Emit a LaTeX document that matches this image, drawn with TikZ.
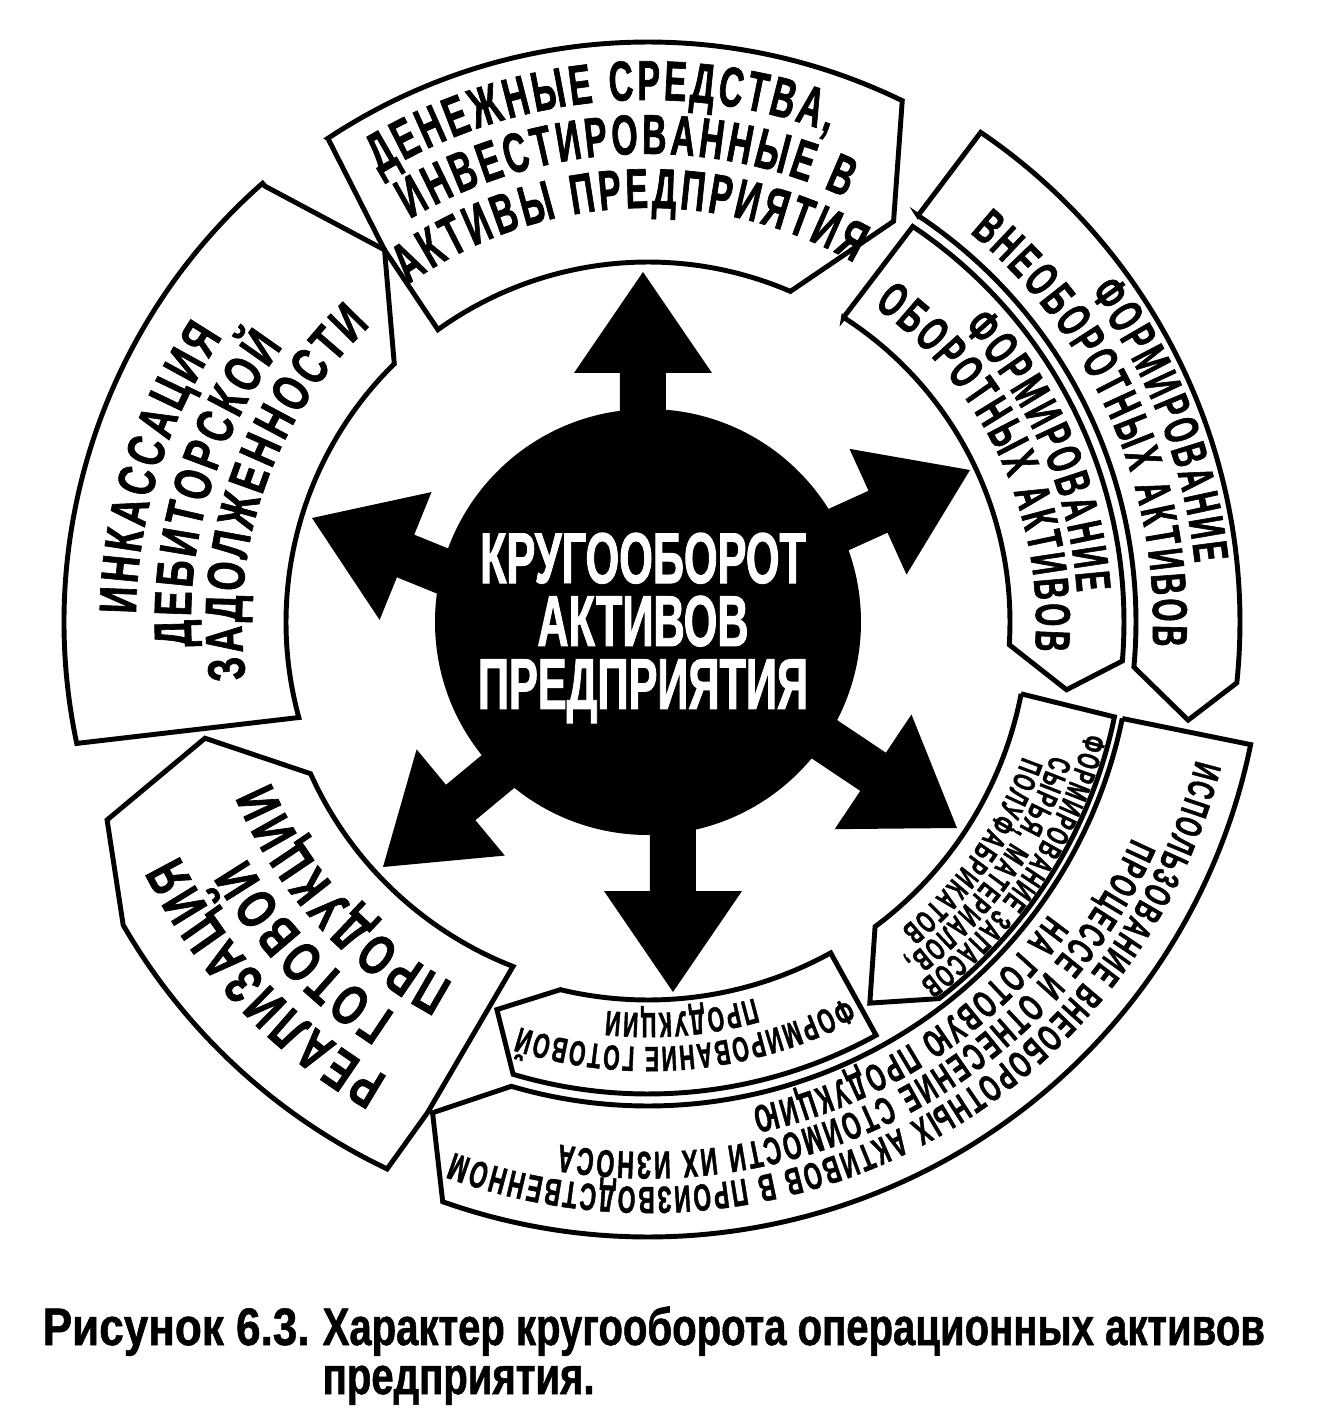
\documentclass[tikz,border=0pt]{standalone}
\usepackage{fontspec}
\newfontfamily\cnd[FakeStretch=0.6, FakeBold=1.2]{Liberation Sans}
\newfontfamily\cndw[FakeStretch=0.71, FakeBold=1.2]{Liberation Sans}
\newfontfamily\capf[FakeStretch=0.76, FakeBold=1]{Liberation Sans}
\usetikzlibrary{decorations.text}
\newcommand\arctext[5][\cnd]{\path[decorate, decoration={text along path, text={|#1\bfseries\fontsize{#4}{#4}\selectfont\kern.06em|#5}, text align=center}] ({#3+75}:#2) arc[start angle={#3+75}, end angle={#3-75}, radius=#2];}

\begin{document}
\begin{tikzpicture}[box/.style={draw, line width=1.4pt}]
\useasboundingbox (-6.48,6.22) rectangle (6.72,-7.92);
\draw[box] (123.5:5.8) -- (125.3:4.56) -- (125.7:3.6) arc[start angle=125.7, end angle=66.7, radius=3.6] -- (58.5:4.7) -- (64:5.8) arc[start angle=64, end angle=123.5, radius=5.8] -- cycle;
\draw[box] (131.3:5.8) -- (125.3:4.56) -- (134.5:3.62) arc[start angle=134.5, end angle=195.3, radius=3.62] -- (192:5.84) arc[start angle=192, end angle=131.3, radius=5.84] -- cycle;
\draw[box] (200.1:5.76) -- (194.7:4.58) -- (204.2:3.7) arc[start angle=204.2, end angle=248.6, radius=3.7] -- (245.8:5.38) -- (244.5:6.06) arc[start angle=244.5, end angle=210, radius=6.06] -- cycle;
\draw[box] (248.7:4.16) -- (256.6:3.78) arc[start angle=256.6, end angle=298.9, radius=3.78] -- (298.9:4.72) arc[start angle=298.9, end angle=253.4, radius=4.72] -- cycle;
\draw[box] (-10.9:3.8) -- (-11.5:4.76) arc[start angle=-11.5, end angle=-52.3, radius=4.76] -- (-59.8:4.41) -- (-53.3:3.8) arc[start angle=-53.3, end angle=-10.9, radius=3.8] -- cycle;
\draw[box] (-11.5:4.84) -- (-11.5:6.15) arc[start angle=-11.5, end angle=-109.5, radius=6.15] -- (-113.7:5.36) -- (-106.4:4.84) arc[start angle=-106.4, end angle=-11.5, radius=4.84] -- cycle;
\draw[box] (57.3:3.62) -- (56.2:4.76) arc[start angle=56.2, end angle=-4.7, radius=4.76] -- (-9.2:4.24) -- (-3.6:3.62) arc[start angle=-3.6, end angle=57.3, radius=3.62] -- cycle;
\draw[box] (56.4:4.88) -- (55.8:5.92) arc[start angle=55.8, end angle=-5.9, radius=5.92] -- (-10.3:5.49) -- (-5.3:4.88) arc[start angle=-5.3, end angle=56.4, radius=4.88] -- cycle;
\fill (0,0) circle (2.13);
\foreach \x/\y/\d in {-0.05/3.5/90, 3.22/1.52/24.4, 3.09/-2.06/-33.8, 0.25/-3.7/-90, -2.65/-2.45/219.7, -3.36/1.04/157.9}
  \fill[shift={(\x,\y)}, rotate=\d] (0,0) -- (-1.01,0.69) -- (-1.01,0.23) -- (-3,0.23) -- (-3,-0.23) -- (-1.01,-0.23) -- (-1.01,-0.69) -- cycle;
\node[align=center, text=white, font=\cnd\bfseries\fontsize{20.5}{17.9}\selectfont] (core) at (-0.05,-0.06) {КРУГООБОРОТ\\АКТИВОВ\\ПРЕДПРИЯТИЯ};
\arctext{5.22}{95.5}{16}{ДЕНЕЖНЫЕ СРЕДСТВА,}
\arctext{4.68}{93}{16}{ИНВЕСТИРОВАННЫЕ В}
\arctext{4.14}{93}{16}{АКТИВЫ ПРЕДПРИЯТИЯ}
\arctext[\cndw]{5.12}{162.8}{15}{ИНКАССАЦИЯ}
\arctext[\cndw]{4.57}{163.2}{15}{ДЕБИТОРСКОЙ}
\arctext[\cndw]{4.06}{160.8}{15}{ЗАДОЛЖЕННОСТИ}
\arctext{5.5}{21.6}{14}{ФОРМИРОВАНИЕ}
\arctext{5.05}{24}{14}{ВНЕОБОРОТНЫХ АКТИВОВ}
\arctext{4.3}{23.7}{14}{ФОРМИРОВАНИЕ}
\arctext{3.88}{25.3}{14}{ОБОРОТНЫХ АКТИВОВ}
\arctext{4.51}{-33.5}{9}{ФОРМИРОВАНИЕ ЗАПАСОВ}
\arctext{4.245}{-35.4}{9}{СЫРЬЯ, МАТЕРИАЛОВ,}
\arctext{3.98}{-35}{9}{ПОЛУФАБРИКАТОВ}
\arctext{5.65}{-62}{10.8}{ИСПОЛЬЗОВАНИЕ ВНЕОБОРОТНЫХ АКТИВОВ В ПРОИЗВОДСТВЕННОМ}
\arctext{5.3}{-61.7}{11}{ПРОЦЕССЕ И ОТНЕСЕНИЕ СТОИМОСТИ ИХ ИЗНОСА}
\arctext{4.96}{-56.9}{11}{НА ГОТОВУЮ ПРОДУКЦИЮ}
\arctext{4.25}{275.3}{10}{ФОРМИРОВАНИЕ ГОТОВОЙ}
\arctext{3.91}{275}{10}{ПРОДУКЦИИ}
\arctext[\cndw]{5.24}{223.5}{16}{РЕАЛИЗАЦИЯ}
\arctext[\cndw]{4.66}{224}{16}{ГОТОВОЙ}
\arctext[\cndw]{4.1}{222.5}{16}{ПРОДУКЦИИ}
\node[anchor=base west, inner sep=0, xscale=1.1, font=\capf\bfseries\fontsize{15}{15}\selectfont] (cap1) at (-6.06,-7.23) {Рисунок 6.3.};
\node[anchor=base west, inner sep=0, font=\capf\bfseries\fontsize{15}{15}\selectfont] (cap2) at (-3.26,-7.23) {Характер кругооборота операционных активов};
\node[anchor=base west, inner sep=0, font=\capf\bfseries\fontsize{15}{15}\selectfont] (cap3) at (-3.26,-7.72) {предприятия.};
\end{tikzpicture}
\end{document}
